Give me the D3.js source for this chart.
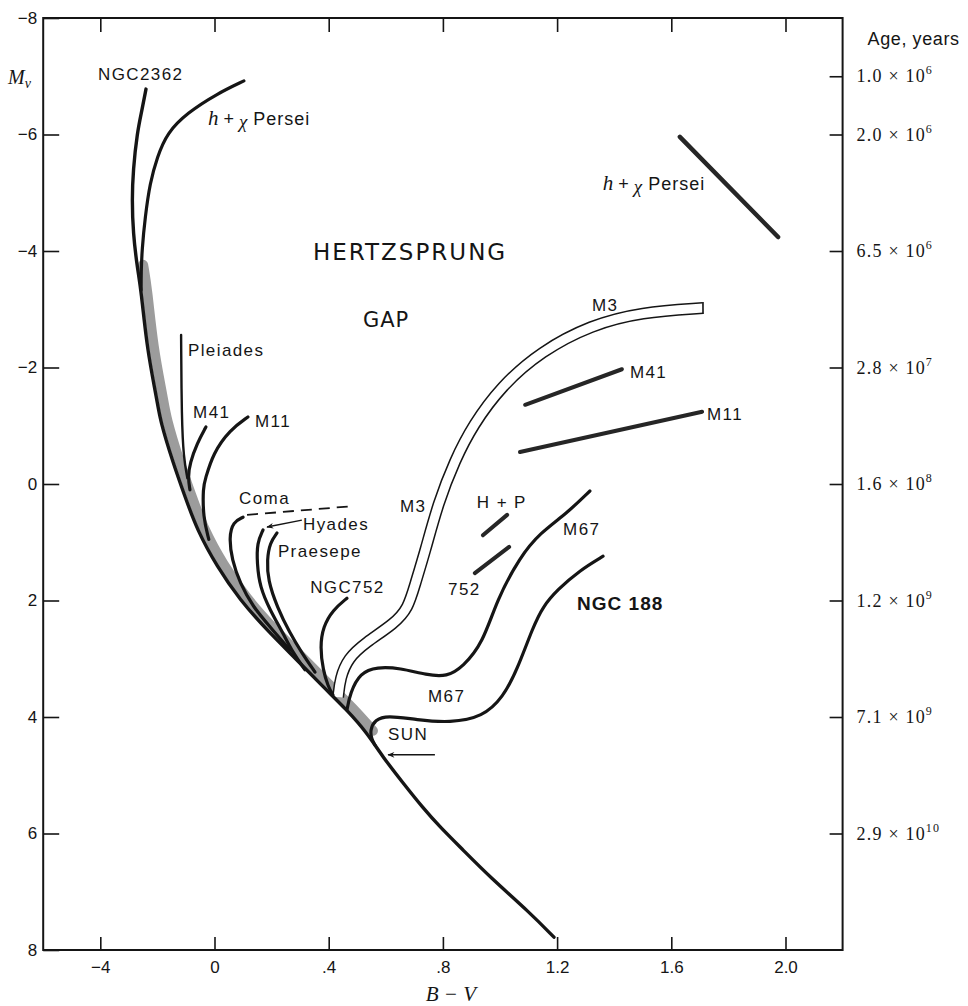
<!DOCTYPE html>
<html>
<head>
<meta charset="utf-8">
<script src="https://cdn.jsdelivr.net/npm/d3@7"></script>
<style>
  body { margin: 0; background: #fff; }
  svg { display: block; }
</style>
</head>
<body>
<svg id="chart" width="968" height="1006"></svg>
<script>
// ---- Axis ticks -------------------------------------------------------
const bvTicks = [-0.4, 0, 0.4, 0.8, 1.2, 1.6, 2.0];
const bvTickLabels = ["\u22124", "0", ".4", ".8", "1.2", "1.6", "2.0"];
const mvTicks = [-8, -6, -4, -2, 0, 2, 4, 6, 8];
const mvTickLabels = ["\u22128", "\u22126", "\u22124", "\u22122", "0", "2", "4", "6", "8"];

// Age scale on the right-hand axis (turn-off magnitude -> age)
const ageMv = [-7, -6, -4, -2, 0, 2, 4, 6];
const ageMantissa = ["1.0", "2.0", "6.5", "2.8", "1.6", "1.2", "7.1", "2.9"];
const ageExponent = ["6", "6", "6", "7", "8", "9", "9", "10"];

// ---- Cluster sequences: [B-V, Mv] ------------------------------------
const mainSequence = [[-0.240,-6.78],[-0.254,-6.42],[-0.271,-6.03],[-0.285,-5.39],[-0.289,-4.88],
  [-0.285,-4.31],[-0.271,-3.73],[-0.257,-3.33],[-0.236,-2.30],[-0.201,-1.44],[-0.191,-1.10],
  [-0.145,-0.36],[-0.103,0.22],[-0.061,0.79],[0.009,1.42],[0.089,1.99],[0.184,2.51],[0.289,3.02],
  [0.380,3.48],[0.464,3.88],[0.534,4.27],[0.590,4.69],[0.660,5.13],[0.730,5.56],[0.790,5.89],
  [0.870,6.28],[0.965,6.75],[1.105,7.36],[1.189,7.78]];
const hChiPersei = [[0.103,-6.92],[0.009,-6.70],[-0.096,-6.37],[-0.166,-6.03],[-0.201,-5.61],
  [-0.226,-5.17],[-0.243,-4.58],[-0.254,-4.02],[-0.257,-3.62],[-0.257,-3.33]];
const hChiPerseiGiants = [[1.630,-5.96],[1.974,-4.24]];
const pleiades = [[-0.117,-2.56],[-0.115,-1.10],[-0.108,-0.45],[-0.095,-0.10]];
const m41 = [[-0.030,-0.98],[-0.061,-0.70],[-0.086,-0.36],[-0.093,-0.12],[-0.086,0.10]];
const m41Giants = [[1.088,-1.36],[1.427,-1.97]];
const m11 = [[0.117,-1.15],[0.054,-0.93],[-0.005,-0.53],[-0.033,-0.07],[-0.040,0.05],[-0.040,0.57],[-0.020,0.95]];
const m11Giants = [[1.070,-0.55],[1.708,-1.24]];
const coma = [[0.100,0.57],[0.065,0.65],[0.051,0.91],[0.061,1.30],[0.089,1.70],[0.135,2.11],[0.194,2.45],[0.264,2.85]];
const comaGiants = [[0.114,0.53],[0.485,0.38]];
const hyades = [[0.170,0.79],[0.149,1.01],[0.149,1.36],[0.159,1.77],[0.194,2.16],[0.240,2.56],[0.275,2.90],[0.317,3.19]];
const praesepe = [[0.219,0.84],[0.194,1.01],[0.184,1.30],[0.187,1.65],[0.219,2.11],[0.264,2.56],[0.306,2.90],[0.352,3.23]];
const hpGiants = [[0.940,0.88],[1.025,0.53]];
const ngc752 = [[0.464,1.96],[0.415,2.16],[0.380,2.45],[0.370,2.80],[0.380,3.19],[0.398,3.48],[0.415,3.62]];
const ngc752Giants = [[0.912,1.53],[1.032,1.08]];
const m3 = [[0.433,3.66],[0.440,3.33],[0.468,2.99],[0.527,2.73],[0.632,2.39],[0.678,2.13],[0.702,1.73],
  [0.737,1.17],[0.783,0.33],[0.842,-0.41],[0.905,-1.01],[1.004,-1.68],[1.144,-2.28],[1.319,-2.73],
  [1.494,-2.95],[1.711,-3.02]];
const m67 = [[1.315,0.12],[1.235,0.50],[1.140,0.84],[1.070,1.25],[0.989,1.99],[0.940,2.73],[0.870,3.14],
  [0.814,3.31],[0.744,3.28],[0.650,3.16],[0.569,3.14],[0.510,3.24],[0.475,3.59],[0.464,3.88]];
const ngc188 = [[1.361,1.24],[1.280,1.48],[1.200,1.82],[1.151,2.10],[1.116,2.45],[1.060,3.19],[1.011,3.66],
  [0.940,4.00],[0.825,4.10],[0.709,4.05],[0.604,3.97],[0.562,4.05],[0.545,4.22],[0.550,4.38],[0.562,4.48]];
const sunArrow = [[0.772,4.65],[0.608,4.65]];
const hyadesArrow = [[0.306,0.62],[0.184,0.74]];

// Cluster labels: [text, B-V, Mv]
const clusterLabels = [
  ["NGC2362", -0.408, -6.94], ["Pleiades", -0.093, -2.20], ["M41", -0.075, -1.13], ["M11", 0.142, -0.98],
  ["Coma", 0.086, 0.34], ["Hyades", 0.310, 0.79], ["Praesepe", 0.222, 1.25], ["NGC752", 0.335, 1.87],
  ["M3", 1.322, -2.97], ["M41", 1.455, -1.82], ["M11", 1.725, -1.10], ["M3", 0.650, 0.48],
  ["H + P", 0.919, 0.41], ["M67", 1.221, 0.88], ["752", 0.818, 1.91], ["M67", 0.748, 3.74], ["SUN", 0.608, 4.39]
];

// ---- Layout ------------------------------------------------------------
const svg = d3.select("#chart");
const x = d3.scaleLinear().domain([-0.6, 2.2]).range([43.2, 842.6]);
const y = d3.scaleLinear().domain([-8, 8]).range([18, 950]);
const ink = "#151515";
const sans = "'Liberation Sans', Arial, sans-serif";
const serif = "'Liberation Serif', 'Times New Roman', serif";

const smooth = d3.line().x(d => x(d[0])).y(d => y(d[1])).curve(d3.curveBasis);
const straight = d3.line().x(d => x(d[0])).y(d => y(d[1]));

const defs = svg.append("defs");
defs.append("marker").attr("id", "head").attr("viewBox", "0 0 10 10")
  .attr("refX", 9).attr("refY", 5).attr("markerWidth", 10).attr("markerHeight", 7)
  .attr("markerUnits", "userSpaceOnUse").attr("orient", "auto")
  .append("path").attr("d", "M0,1 L10,5 L0,9 L3,5 Z").attr("fill", ink);

// ---- Frame and axes ---------------------------------------------------
const [x0, x1] = x.range(), [y0, y1] = y.range();
svg.append("rect").attr("x", x0).attr("y", y0).attr("width", x1 - x0).attr("height", y1 - y0)
  .attr("fill", "none").attr("stroke", ink).attr("stroke-width", 2);

function styleAxis(g) {
  g.select(".domain").remove();
  g.selectAll("line").attr("stroke", ink).attr("stroke-width", 1.6);
  g.selectAll("text").attr("font-family", sans).attr("font-size", 17).attr("fill", ink);
}
svg.append("g").attr("transform", `translate(0,${y1})`)
  .call(d3.axisBottom(x).tickValues(bvTicks).tickSize(-13).tickSizeOuter(0).tickPadding(11)
    .tickFormat((d, i) => bvTickLabels[i])).call(styleAxis);
svg.append("g").attr("transform", `translate(0,${y0})`)
  .call(d3.axisTop(x).tickValues(bvTicks).tickSize(-14).tickSizeOuter(0).tickFormat("")).call(styleAxis);
svg.append("g").attr("transform", `translate(${x0},0)`)
  .call(d3.axisLeft(y).tickValues(mvTicks).tickSize(-16).tickSizeOuter(0).tickPadding(6)
    .tickFormat((d, i) => mvTickLabels[i])).call(styleAxis);
svg.append("g").attr("transform", `translate(${x1},0)`)
  .call(d3.axisRight(y).tickValues(ageMv).tickSize(-13).tickSizeOuter(0).tickFormat("")).call(styleAxis);

const ageText = svg.append("g").selectAll("text").data(ageMv).join("text")
  .attr("x", x1 + 14).attr("y", d => y(d) + 6)
  .attr("font-family", serif).attr("font-size", 18).attr("letter-spacing", 1.2).attr("fill", ink);
ageText.append("tspan").text((d, i) => ageMantissa[i] + " \u00d7 10");
ageText.append("tspan").attr("dy", -8).attr("font-size", 12).text((d, i) => ageExponent[i]);

svg.append("text").attr("x", x1 + 25).attr("y", 45).attr("font-family", sans).attr("font-size", 18)
  .attr("letter-spacing", 0.6).attr("fill", ink).text("Age, years");

const mvLabel = svg.append("text").attr("x", 8).attr("y", 84).attr("font-family", serif)
  .attr("font-style", "italic").attr("font-size", 20).attr("fill", ink);
mvLabel.append("tspan").text("M");
mvLabel.append("tspan").attr("dy", 4).attr("font-size", 14).text("v");

svg.append("text").attr("x", x(0.8) + 8).attr("y", 1001).attr("text-anchor", "middle")
  .attr("font-family", serif).attr("font-style", "italic").attr("font-size", 21).attr("fill", ink)
  .text("B \u2212 V");

// ---- Sequences -------------------------------------------------------
const plot = svg.append("g");

// Overlap of many cluster sequences along the main sequence
plot.append("path").attr("d", smooth(mainSequence.filter(d => d[1] > -3.8 && d[1] < 4.3)))
  .attr("transform", "translate(6,-2)")
  .attr("fill", "none").attr("stroke", "#9c9c9c").attr("stroke-width", 10).attr("stroke-linecap", "round");

// M3: drawn as an open band
plot.append("path").attr("d", smooth(m3)).attr("fill", "none").attr("stroke", ink).attr("stroke-width", 12);
plot.append("path").attr("d", smooth(m3)).attr("fill", "none").attr("stroke", "#fff").attr("stroke-width", 9);
const m3End = m3[m3.length - 1];
plot.append("line").attr("x1", x(m3End[0])).attr("x2", x(m3End[0]))
  .attr("y1", y(m3End[1]) - 6).attr("y2", y(m3End[1]) + 6).attr("stroke", ink).attr("stroke-width", 1.6);

const branches = [hChiPersei, pleiades, m41, m11, coma, hyades, praesepe, ngc752, m67, ngc188];
plot.selectAll(".branch").data(branches).join("path").attr("class", "branch")
  .attr("d", smooth).attr("fill", "none").attr("stroke", ink)
  .attr("stroke-width", (d, i) => i === 1 ? 2.4 : 3.2).attr("stroke-linecap", "round");

const giants = [hChiPerseiGiants, m41Giants, m11Giants, hpGiants, ngc752Giants];
plot.selectAll(".giant").data(giants).join("path").attr("class", "giant")
  .attr("d", straight).attr("fill", "none").attr("stroke", "#262626")
  .attr("stroke-width", (d, i) => i === 0 ? 4.5 : 4).attr("stroke-linecap", "round");

plot.append("path").attr("d", straight(comaGiants)).attr("fill", "none").attr("stroke", ink)
  .attr("stroke-width", 1.8).attr("stroke-dasharray", "11,7");

plot.append("path").attr("d", smooth(mainSequence)).attr("fill", "none").attr("stroke", ink)
  .attr("stroke-width", 3.4).attr("stroke-linecap", "round");

// Pointers
[sunArrow, hyadesArrow].forEach(a => {
  plot.append("path").attr("d", straight(a)).attr("fill", "none").attr("stroke", ink)
    .attr("stroke-width", 1.5).attr("marker-end", "url(#head)");
});

// ---- Labels ------------------------------------------------------------
plot.selectAll(".lbl").data(clusterLabels).join("text").attr("class", "lbl")
  .attr("x", d => x(d[1])).attr("y", d => y(d[2]))
  .attr("font-family", sans).attr("font-size", 17).attr("letter-spacing", 1.4).attr("fill", ink)
  .text(d => d[0]);

function perseiLabel(bv, mv) {
  const t = plot.append("text").attr("x", x(bv)).attr("y", y(mv)).attr("fill", ink).attr("font-size", 18);
  t.append("tspan").attr("font-family", serif).attr("font-style", "italic").attr("font-size", 21).text("h");
  t.append("tspan").attr("font-family", sans).text(" + ");
  t.append("tspan").attr("font-family", serif).attr("font-style", "italic").attr("font-size", 19)
    .attr("dy", 3).text("\u03c7");
  t.append("tspan").attr("font-family", sans).attr("dy", -3).attr("letter-spacing", 1).text(" Persei");
}
perseiLabel(-0.023, -6.16);
perseiLabel(1.36, -5.05);

plot.append("text").attr("x", x(0.685)).attr("y", y(-3.85)).attr("text-anchor", "middle")
  .attr("font-family", "'DejaVu Sans', sans-serif").attr("font-size", 23).attr("letter-spacing", 2)
  .attr("fill", ink).text("HERTZSPRUNG");
plot.append("text").attr("x", x(0.601)).attr("y", y(-2.70)).attr("text-anchor", "middle")
  .attr("font-family", "'DejaVu Sans', sans-serif").attr("font-size", 21).attr("letter-spacing", 1)
  .attr("fill", ink).text("GAP");
plot.append("text").attr("x", x(1.270)).attr("y", y(2.16))
  .attr("font-family", sans).attr("font-weight", "bold").attr("font-size", 19).attr("letter-spacing", 1)
  .attr("fill", ink).text("NGC 188");
</script>
</body>
</html>
